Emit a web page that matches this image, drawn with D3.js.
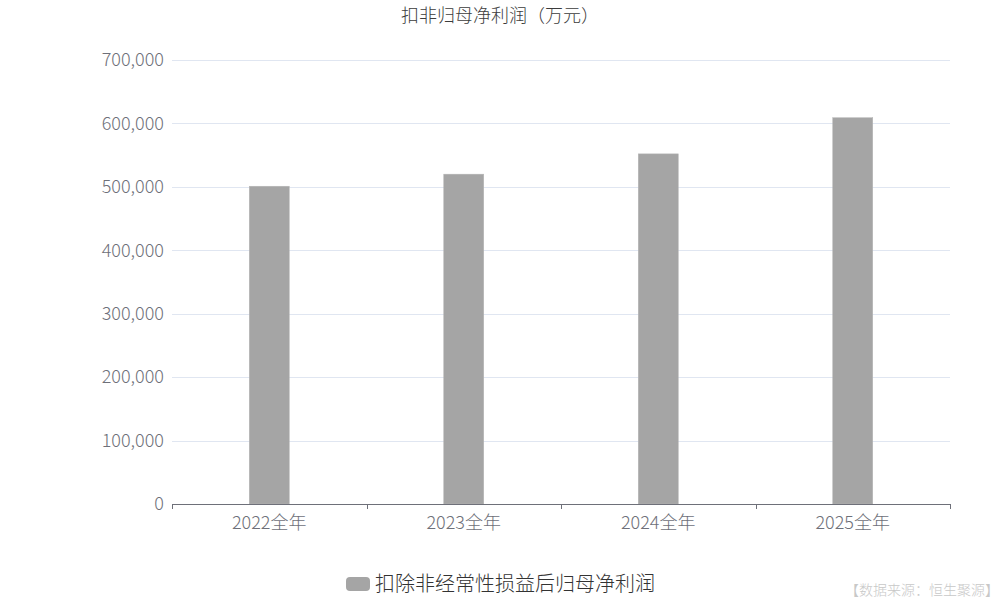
<!DOCTYPE html>
<html>
<head>
<meta charset="utf-8">
<script src="https://cdn.jsdelivr.net/npm/d3@7"></script>
<style>
  body { margin: 0; background: #fff; }
  svg { font-family: 'Noto Sans CJK SC', 'Noto Sans', sans-serif; font-weight: 300; }
</style>
</head>
<body>
<svg id="chart" width="1000" height="600"></svg>
<script>
const categories = ['2022全年', '2023全年', '2024全年', '2025全年'];
const values = [501000, 520000, 552000, 609000];
const yTicks = [0, 100000, 200000, 300000, 400000, 500000, 600000, 700000];
const title = '扣非归母净利润（万元）';
const seriesName = '扣除非经常性损益后归母净利润';
const source = '【数据来源：恒生聚源】';

const margin = { top: 60, right: 50, bottom: 96, left: 172 };
const width = 1000;
const height = 600;
const graphW = width - margin.left - margin.right;
const graphH = height - margin.top - margin.bottom;

const svg = d3.select('#chart');

svg.append('text')
  .attr('x', 500)
  .attr('y', 22)
  .attr('text-anchor', 'middle')
  .attr('font-size', 18)
  .attr('fill', '#3c3c3c')
  .text(title);

const g = svg.append('g')
  .attr('transform', `translate(${margin.left},${margin.top})`);

const xScale = d3.scaleBand().domain(categories).range([0, graphW]);
const yScale = d3.scaleLinear().domain([0, 700000]).range([graphH, 0]);

// grid lines
g.append('g')
  .selectAll('line')
  .data(yTicks.filter(d => d > 0))
  .enter()
  .append('line')
  .attr('x1', 0)
  .attr('x2', graphW)
  .attr('y1', d => Math.round(yScale(d)) + 0.5)
  .attr('y2', d => Math.round(yScale(d)) + 0.5)
  .attr('stroke', '#e0e6f1');

// y labels
const yAxis = d3.axisLeft(yScale)
  .tickValues(yTicks)
  .tickSize(0)
  .tickPadding(8)
  .tickFormat(d3.format(','));
g.append('g')
  .call(yAxis)
  .call(s => s.select('.domain').remove())
  .selectAll('text')
  .attr('font-size', 18)
  .attr('fill', '#6e7079')
  .attr('font-family', "'Noto Sans CJK SC', sans-serif");

// bars
const barW = 40;
g.append('g')
  .selectAll('rect')
  .data(values)
  .enter()
  .append('rect')
  .attr('x', (d, i) => xScale(categories[i]) + xScale.bandwidth() / 2 - barW / 2)
  .attr('y', d => yScale(d))
  .attr('width', barW)
  .attr('height', d => graphH - yScale(d))
  .attr('fill', '#a5a5a5')
  .attr('stroke', '#b5b5b5')
  .attr('stroke-width', 0.5);

// x axis
const xAxisG = g.append('g')
  .attr('transform', `translate(0,${graphH})`);
xAxisG.append('line')
  .attr('x1', 0).attr('x2', graphW)
  .attr('y1', 0.5).attr('y2', 0.5)
  .attr('stroke', '#6e7079');
const bounds = categories.map(c => xScale(c)).concat([graphW]);
xAxisG.selectAll('line.tick')
  .data(bounds)
  .enter()
  .append('line')
  .attr('class', 'tick')
  .attr('x1', d => Math.round(d) + 0.5)
  .attr('x2', d => Math.round(d) + 0.5)
  .attr('y1', 0)
  .attr('y2', 5)
  .attr('stroke', '#6e7079');
xAxisG.selectAll('text')
  .data(categories)
  .enter()
  .append('text')
  .attr('x', d => xScale(d) + xScale.bandwidth() / 2)
  .attr('y', 25)
  .attr('text-anchor', 'middle')
  .attr('font-size', 18)
  .attr('fill', '#6e7079')
  .text(d => d);

// legend
const legend = svg.append('g').attr('transform', 'translate(346,577)');
legend.append('rect')
  .attr('x', 0).attr('y', 0)
  .attr('width', 24).attr('height', 14)
  .attr('rx', 4)
  .attr('fill', '#a5a5a5');
legend.append('text')
  .attr('x', 29)
  .attr('y', 14)
  .attr('font-size', 20)
  .attr('fill', '#333')
  .text(seriesName);

svg.append('text')
  .attr('x', 999)
  .attr('y', 595)
  .attr('text-anchor', 'end')
  .attr('font-size', 14)
  .attr('fill', '#c8c8c8')
  .text(source);
</script>
</body>
</html>
